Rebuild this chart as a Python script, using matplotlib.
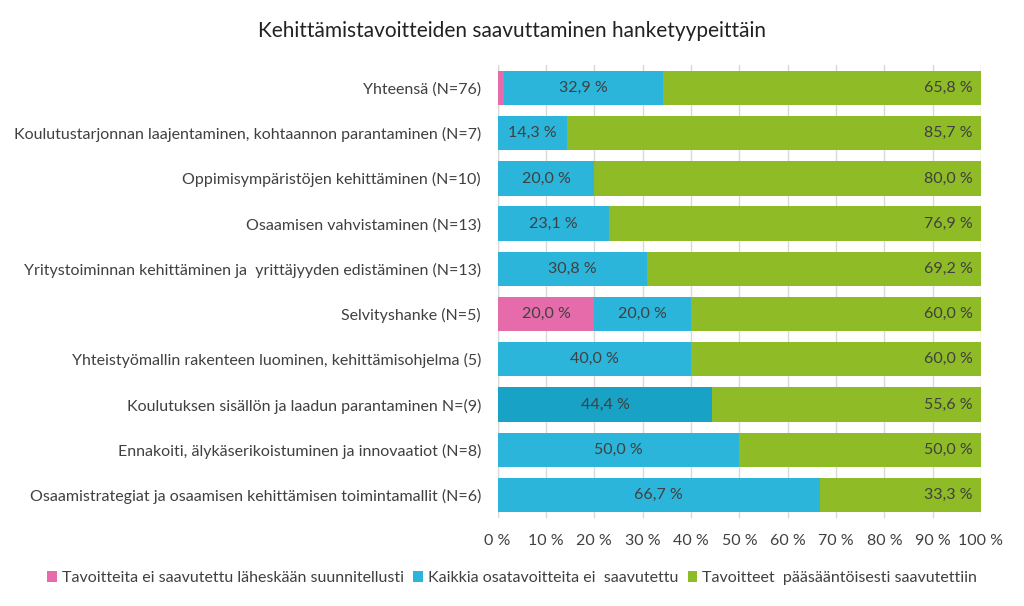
import matplotlib
matplotlib.use("Agg")
import matplotlib.pyplot as plt
import numpy as np

plt.rcParams['font.family'] = ['Lato', 'DejaVu Sans']

categories = [
    "Yhteensä (N=76)",
    "Koulutustarjonnan laajentaminen, kohtaannon parantaminen (N=7)",
    "Oppimisympäristöjen kehittäminen (N=10)",
    "Osaamisen vahvistaminen (N=13)",
    "Yritystoiminnan kehittäminen ja  yrittäjyyden edistäminen (N=13)",
    "Selvityshanke (N=5)",
    "Yhteistyömallin rakenteen luominen, kehittämisohjelma (5)",
    "Koulutuksen sisällön ja laadun parantaminen N=(9)",
    "Ennakoiti, älykäserikoistuminen ja innovaatiot (N=8)",
    "Osaamistrategiat ja osaamisen kehittämisen toimintamallit (N=6)",
]
pink_vals = [1.3, 0, 0, 0, 0, 20.0, 0, 0, 0, 0]
blue_vals = [32.9, 14.3, 20.0, 23.1, 30.8, 20.0, 40.0, 44.4, 50.0, 66.7]
green_vals = [65.8, 85.7, 80.0, 76.9, 69.2, 60.0, 60.0, 55.6, 50.0, 33.3]
series_names = [
    "Tavoitteita ei saavutettu läheskään suunnitellusti",
    "Kaikkia osatavoitteita ei  saavutettu",
    "Tavoitteet  pääsääntöisesti saavutettiin",
]
xticks = [0, 10, 20, 30, 40, 50, 60, 70, 80, 90, 100]

PINK = "#E56BAA"
BLUE = "#2CB5DB"
BLUE_DARK = "#18A2C6"
GREEN = "#8EBB26"
TXT = "#404040"

fig = plt.figure(figsize=(10.24, 6.06), dpi=100)
ax = fig.add_axes([0.486, 0.146, 0.472, 0.746])

y = np.arange(len(categories))
h = 0.76
pink = np.array(pink_vals)
blue = np.array(blue_vals)
green = np.array(green_vals)

blue_colors = [BLUE_DARK if c.startswith("Koulutuksen sisällön") else BLUE for c in categories]

ax.barh(y, pink, height=h, color=PINK, label=series_names[0], zorder=3)
ax.barh(y, blue, left=pink, height=h, color=blue_colors, label=series_names[1], zorder=3)
ax.barh(y, green, left=pink + blue, height=h, color=GREEN, label=series_names[2], zorder=3)

def fmt(v):
    return f"{v:.1f}".replace(".", ",") + " %"

fs = 11.5
for i in range(len(categories)):
    if pink[i] >= 5:
        ax.text(pink[i] / 2, y[i], fmt(pink[i]), ha="center", va="center", color=TXT, fontsize=fs, zorder=4)
    if blue[i] > 0:
        ax.text(pink[i] + blue[i] / 2, y[i], fmt(blue[i]), ha="center", va="center", color=TXT, fontsize=fs, zorder=4)
    if green[i] > 0:
        ax.text(98.3, y[i], fmt(green[i]), ha="right", va="center", color=TXT, fontsize=fs, zorder=4)

ax.set_xlim(0, 100)
ax.set_ylim(len(categories) - 0.5, -0.5)
ax.set_yticks(y)
ax.set_yticklabels(categories, fontsize=11.5, color=TXT)
ax.set_xticks(xticks)
ax.set_xticklabels([f"{t} %" for t in xticks], fontsize=11.5, color=TXT)
ax.tick_params(axis="both", length=0)
ax.tick_params(axis="x", pad=12)
ax.tick_params(axis="y", pad=12)
ax.grid(axis="x", color="#D9D9D9", linewidth=1, zorder=0)
for s in ax.spines.values():
    s.set_visible(False)
ax.axvline(0, color="#D9D9D9", linewidth=1, zorder=1)

fig.suptitle("Kehittämistavoitteiden saavuttaminen hanketyypeittäin", y=0.965, fontsize=15, color="#222222")

handles, labels = ax.get_legend_handles_labels()
fig.legend(handles, labels, loc="center", bbox_to_anchor=(0.5, 0.046), ncol=3, frameon=False,
           fontsize=11.5, handlelength=0.6, handleheight=0.6, handletextpad=0.3, columnspacing=0.6,
           labelcolor=TXT)

fig.savefig("out.png", dpi=100)
